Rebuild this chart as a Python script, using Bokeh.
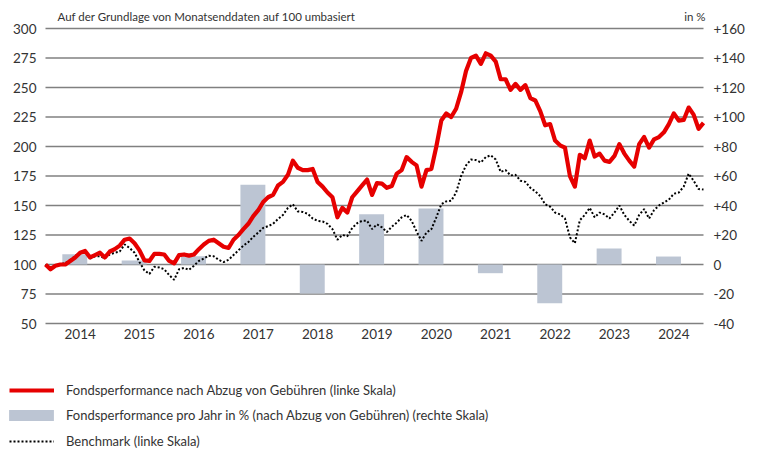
from bokeh.plotting import figure
from bokeh.models import (Range1d, LinearAxis, FixedTicker, Legend, LegendItem, Label)
from bokeh.embed import file_html
from bokeh.resources import INLINE

# Monthly month-end data, Nov 2013 .. Dec 2024 (rebased to 100)
start_year = 2013
start_month = 11

fund = [100, 96, 99, 100, 100, 103, 106, 110, 111.5, 106, 108, 110, 106, 111,
        113, 116, 121, 122, 118, 112, 103.5, 103, 109, 109, 108.5, 103, 101, 108,
        108.5, 107.5, 108.5, 113, 117, 120, 121, 118, 115, 114, 121, 125, 130, 134.5,
        141, 146, 153, 157, 159, 167, 170, 176, 188, 182, 180, 180, 181, 170,
        166, 161, 157, 140, 148, 144, 157, 162, 167, 172, 159, 169, 168.5, 165,
        166.5, 177, 180, 191, 187, 184, 166, 180, 181, 200, 222, 228, 225, 232,
        246, 264, 275, 277, 270, 279, 277, 272, 257, 257, 248, 253, 248, 252,
        241, 239, 230, 218, 219, 205, 201, 199, 175, 166, 193, 190, 205, 191.5,
        194, 188, 187, 192, 202, 194, 188, 183, 202, 208, 199, 206, 208, 212,
        219, 228, 222, 222.5, 233, 227, 215, 220]

benchmark = [100, 96, 99, 100.5, 101, 104, 107, 110.5, 111.5, 105, 107, 107, 105.5, 108.5,
             110, 111, 117, 114, 110, 102, 95, 92, 98, 97.5, 96, 91, 87, 96,
             97, 95.5, 99, 103, 105, 107.5, 107, 104, 102, 104, 108, 112, 116, 119,
             123.5, 127, 131, 132.5, 134.5, 138.5, 142, 148, 151, 145, 144.5, 143, 139, 137,
             136.5, 134.5, 130, 121, 125, 124, 131, 135, 137, 137, 130, 134, 131.5, 127.5,
             132, 135.5, 140, 142, 137, 128, 120, 127, 130, 140, 151, 153.5, 154, 161,
             175, 184, 189, 188.5, 186.5, 191, 192.5, 189, 178.5, 180, 175.5, 176, 171, 170,
             165, 162, 158, 151, 149, 144, 142.5, 139, 123, 118, 137.5, 142, 148, 140,
             144, 142.5, 139, 144, 150, 142, 137, 133, 142, 147, 139, 146, 150, 152.5,
             155, 160, 161, 166, 177, 171, 164, 163.5]

bar_years = [2014, 2015, 2016, 2017, 2018, 2019, 2020, 2021, 2022, 2023, 2024]
bar_values = [7, 2.7, 5.6, 54, -19.7, 34, 38, -5.9, -26.2, 10.8, 5.4]

left_ticks = [50, 75, 100, 125, 150, 175, 200, 225, 250, 275, 300]
right_ticks = [-40, -20, 0, 20, 40, 60, 80, 100, 120, 140, 160]
right_labels = ["-40", "-20", "0", "+20", "+40", "+60", "+80", "+100", "+120", "+140", "+160"]
year_labels = ["2014", "2015", "2016", "2017", "2018", "2019", "2020", "2021", "2022", "2023", "2024"]

title_text = "Auf der Grundlage von Monatsenddaten auf 100 umbasiert"
unit_text = "in %"
legend_fund = "Fondsperformance nach Abzug von Gebühren (linke Skala)"
legend_bar = "Fondsperformance pro Jahr in % (nach Abzug von Gebühren) (rechte Skala)"
legend_bm = "Benchmark (linke Skala)"

FONT = "Lato"
TXT = "#333333"
RED = "#e60000"
BAR = "#bcc5d3"
GRID = "#808080"

# x position of each month-end as fractional year
x = [start_year + (start_month + i) / 12 for i in range(len(fund))]
x0 = x[0]
x1 = x[-1]

W, H = 758, 452
PLOT_L, PLOT_R, PLOT_T, PLOT_B = 45, 703, 28, 323   # screen box of the chart area
PX_X = (PLOT_R - PLOT_L) / (x1 - x0)                 # pixels per year
PX_Y = (PLOT_B - PLOT_T) / (300 - 50)                # pixels per index point

# frame spans the whole canvas; axes are pinned at the chart-area edges
xr = Range1d(x0 - PLOT_L / PX_X, x1 + (W - PLOT_R) / PX_X)
y_lo = 50 - (H - PLOT_B) / PX_Y
y_hi = 300 + PLOT_T / PX_Y
yr = Range1d(y_lo, y_hi)
pr = Range1d((y_lo - 100) * 0.8, (y_hi - 100) * 0.8)

p = figure(width=W, height=H, output_backend="svg", toolbar_location=None,
           x_range=xr, y_range=yr, min_border=0, title_location=None)
p.outline_line_color = None
p.background_fill_color = "white"
p.border_fill_color = "white"
p.extra_y_ranges = {"pct": pr}
p.xgrid.grid_line_color = None
p.ygrid.grid_line_color = None

def style_axis(ax, standoff):
    ax.axis_line_color = None
    ax.major_tick_line_color = None
    ax.minor_tick_line_color = None
    ax.major_tick_out = 0
    ax.major_tick_in = 0
    ax.minor_tick_out = 0
    ax.minor_tick_in = 0
    ax.major_label_text_font = FONT
    ax.major_label_text_font_size = "13.5px"
    ax.major_label_text_color = TXT
    ax.major_label_standoff = standoff

xa = p.xaxis[0]
xa.ticker = FixedTicker(ticks=[y + 0.5 for y in bar_years])
xa.major_label_overrides = {y + 0.5: lab for y, lab in zip(bar_years, year_labels)}
xa.fixed_location = 50
style_axis(xa, 5)

ya = p.yaxis[0]
ya.ticker = FixedTicker(ticks=left_ticks)
ya.fixed_location = x0
style_axis(ya, 9)

ra = LinearAxis(y_range_name="pct", ticker=FixedTicker(ticks=right_ticks))
ra.major_label_overrides = {t: l for t, l in zip(right_ticks, right_labels)}
ra.fixed_location = x1
style_axis(ra, 10)
p.add_layout(ra, "right")

# horizontal gridlines across the chart area
p.segment(x0=[x0] * len(left_ticks), x1=[x1] * len(left_ticks),
          y0=left_ticks, y1=left_ticks, line_color=GRID, line_width=1.5)

# bars on right scale
bars = p.vbar(x=[y + 0.41 for y in bar_years], top=bar_values, bottom=0, width=0.42,
              fill_color=BAR, line_color=None, y_range_name="pct")

bm = p.line(x, benchmark, line_color="black", line_width=2, line_dash="2 2")
fr = p.line(x, fund, line_color=RED, line_width=4.2, line_join="round")

common = dict(orientation="vertical", padding=0, margin=0,
              label_text_font=FONT, label_text_font_size="13px",
              label_text_color=TXT, border_line_color=None, background_fill_alpha=0)

# line entries (rows 1 and 3)
legend_lines = Legend(items=[LegendItem(label=legend_fund, renderers=[fr]),
                             LegendItem(label=legend_bm, renderers=[bm])],
                      location=(9, 1), glyph_width=45, glyph_height=20, spacing=31,
                      label_standoff=12, **common)
p.add_layout(legend_lines, "center")

# bar entry (row 2); area swatches are drawn at 80% of the glyph box
legend_bars = Legend(items=[LegendItem(label=legend_bar, renderers=[bars])],
                     location=(3, 29), glyph_width=56, glyph_height=14,
                     label_standoff=7, **common)
p.add_layout(legend_bars, "center")

p.add_layout(Label(x=x0 + 12 / PX_X, y=300 + 12 / PX_Y, text=title_text,
                   text_font=FONT, text_font_size="11.5px", text_color=TXT,
                   text_baseline="middle"))
p.add_layout(Label(x=x1 + 2 / PX_X, y=300 + 12 / PX_Y, text=unit_text,
                   text_font=FONT, text_font_size="11.5px", text_color=TXT,
                   text_baseline="middle", text_align="right"))

open("out.html", "w").write(file_html(p, INLINE))
